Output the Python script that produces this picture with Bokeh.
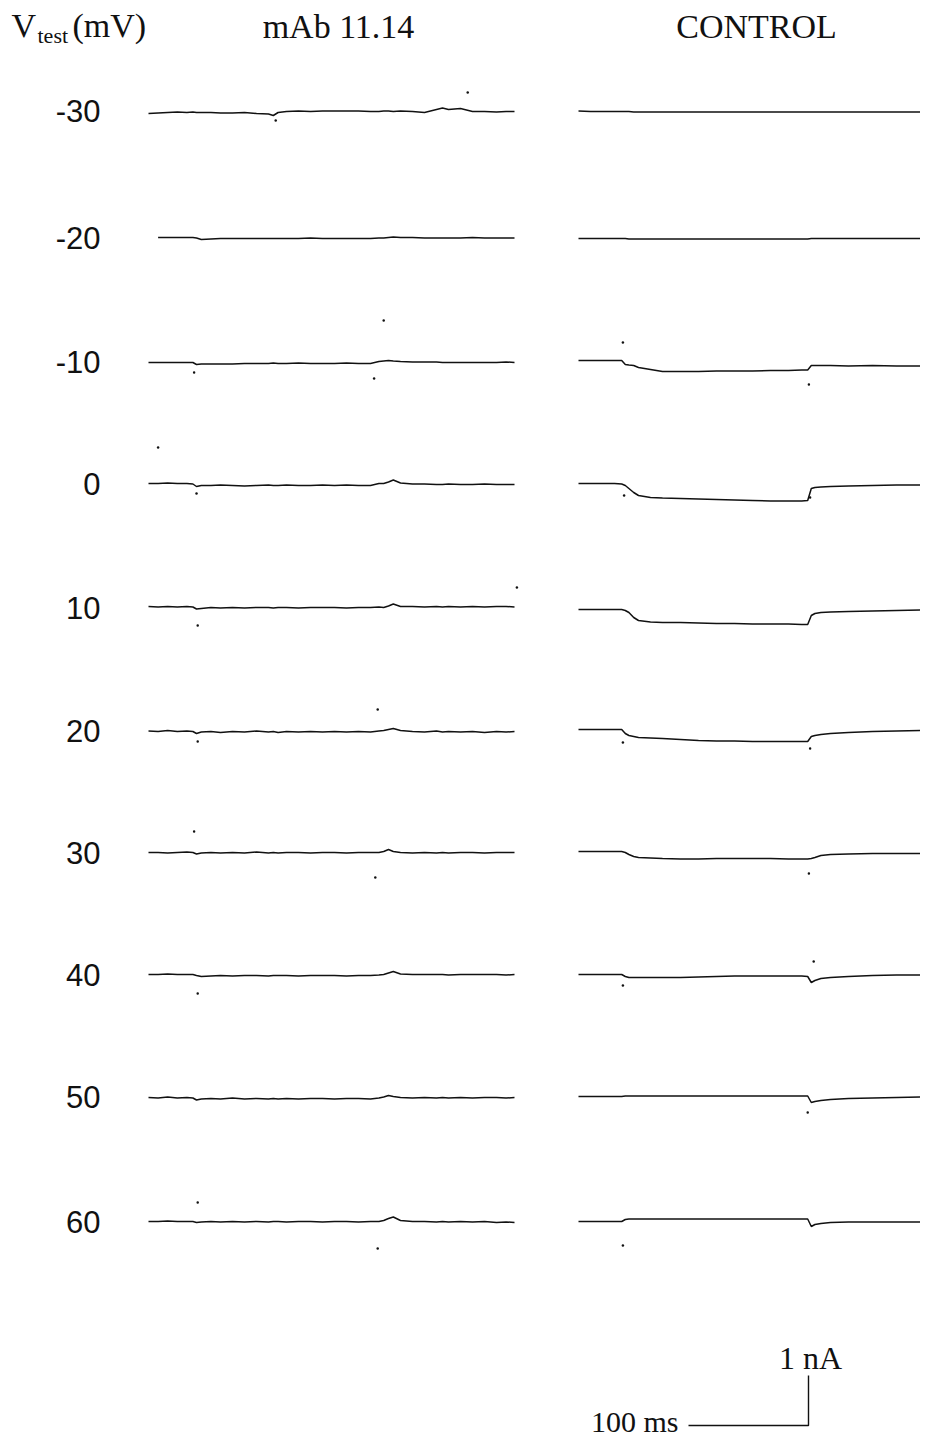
import math
from bokeh.plotting import figure
from bokeh.models import Range1d
from bokeh.core.properties import value
from bokeh.embed import file_html
from bokeh.resources import INLINE

nan = float("nan")

# ---------------- DATA ----------------
VOLTAGES = [-30, -20, -10, 0, 10, 20, 30, 40, 50, 60]
ROW_LABELS = ["-30", "-20", "-10", "0", "10", "20", "30", "40", "50", "60"]
COLUMN_TITLES = ["mAb 11.14", "CONTROL"]
SCALE_TIME_MS = 100
SCALE_CURRENT_NA = 1

# time samples (ms) for mAb 11.14 traces
MAB_T = [0, 8, 16, 24, 32, 37, 40, 44, 52, 60,
         70, 80, 90, 100, 104, 108, 115, 125, 135, 145,
         155, 165, 175, 185, 192, 196, 200, 204, 210, 220,
         230, 240, 245, 250, 260, 270, 280, 290, 298, 305]

# currents (nA) for mAb 11.14 traces
mab_m30 = [-0.05, -0.04, -0.03, -0.02, -0.03, -0.02, -0.03, -0.03, -0.03, -0.04,
           -0.04, -0.03, -0.05, -0.06, -0.09, -0.03, -0.01, 0.00, -0.01, 0.00,
           0.00, 0.00, 0.00, -0.01, -0.01, 0.00, 0.00, -0.01, 0.00, -0.01,
           -0.03, 0.03, 0.06, 0.03, 0.05, -0.01, -0.01, -0.02, -0.01, -0.01]
mab_m20 = [nan, 0.01, 0.01, 0.01, 0.01, 0.01, 0.00, -0.03, -0.02, -0.01,
           -0.01, -0.01, -0.01, -0.01, -0.01, -0.01, -0.01, -0.01, 0.00, -0.01,
           -0.01, -0.01, -0.01, -0.01, 0.00, 0.00, 0.01, 0.02, 0.01, 0.01,
           0.00, 0.00, 0.00, 0.00, 0.00, 0.01, 0.00, 0.00, 0.00, 0.00]
mab_m10 = [-0.02, -0.02, -0.02, -0.02, -0.02, -0.02, -0.06, -0.05, -0.05, -0.05,
           -0.05, -0.04, -0.04, -0.04, -0.03, -0.04, -0.04, -0.03, -0.04, -0.04,
           -0.04, -0.03, -0.04, -0.04, 0.00, 0.01, 0.02, 0.01, 0.00, -0.01,
           -0.01, -0.01, -0.02, -0.02, -0.02, -0.02, -0.02, -0.02, -0.01, -0.02]
mab_0 = [0.00, 0.00, 0.01, 0.00, 0.00, -0.01, -0.06, -0.04, -0.04, -0.03,
         -0.04, -0.05, -0.04, -0.03, -0.04, -0.04, -0.03, -0.04, -0.04, -0.03,
         -0.04, -0.03, -0.04, -0.04, 0.00, 0.00, 0.03, 0.07, 0.01, -0.01,
         -0.01, -0.02, -0.02, -0.01, -0.02, -0.02, -0.01, -0.02, -0.02, -0.02]
mab_10 = [0.02, 0.01, 0.02, 0.01, 0.02, 0.01, -0.03, -0.02, 0.00, -0.01,
          0.00, -0.01, 0.00, 0.00, -0.01, 0.00, 0.00, -0.01, 0.00, 0.00,
          0.00, -0.01, 0.00, 0.00, 0.01, 0.00, 0.03, 0.07, 0.02, 0.02,
          0.01, 0.02, 0.01, 0.02, 0.01, 0.02, 0.01, 0.02, 0.02, 0.01]
mab_20 = [-0.01, -0.02, 0.00, -0.02, -0.01, -0.02, -0.06, -0.03, -0.02, -0.04,
          -0.02, -0.03, -0.01, -0.03, -0.02, -0.04, -0.02, -0.03, -0.02, -0.03,
          -0.02, -0.03, -0.02, -0.03, -0.01, 0.00, 0.02, 0.04, 0.00, -0.02,
          -0.03, -0.01, -0.03, -0.02, -0.03, -0.02, -0.04, -0.02, -0.03, -0.02]
mab_30 = [0.00, 0.00, -0.01, 0.00, 0.01, 0.00, -0.03, -0.01, 0.00, -0.01,
          0.00, -0.01, 0.01, -0.01, 0.00, -0.01, 0.00, 0.00, -0.01, 0.00,
          0.00, -0.01, 0.00, 0.00, 0.00, 0.02, 0.06, 0.02, 0.00, -0.01,
          0.00, -0.01, 0.00, -0.01, 0.00, 0.00, -0.01, 0.00, 0.00, 0.00]
mab_40 = [0.00, 0.00, 0.01, 0.00, 0.00, 0.00, -0.02, -0.04, -0.03, -0.02,
          -0.03, -0.02, -0.02, -0.03, -0.02, -0.02, -0.02, -0.03, -0.02, -0.02,
          -0.02, -0.03, -0.02, -0.02, -0.01, 0.00, 0.03, 0.06, 0.01, 0.00,
          0.00, 0.00, 0.00, -0.01, 0.00, 0.00, 0.00, 0.00, -0.01, 0.00]
mab_50 = [-0.01, -0.02, 0.00, -0.02, -0.01, -0.02, -0.06, -0.04, -0.03, -0.04,
          -0.02, -0.04, -0.03, -0.04, -0.03, -0.04, -0.03, -0.04, -0.03, -0.03,
          -0.04, -0.03, -0.03, -0.04, -0.02, 0.00, 0.03, 0.01, -0.01, -0.02,
          -0.01, -0.02, -0.01, -0.02, -0.01, -0.02, -0.01, -0.01, -0.02, -0.01]
mab_60 = [0.00, 0.00, 0.01, 0.00, 0.00, 0.00, -0.02, -0.01, 0.00, -0.01,
          0.00, -0.01, 0.00, -0.01, 0.00, 0.00, -0.01, 0.00, 0.00, -0.01,
          0.00, 0.00, -0.01, 0.00, 0.00, 0.02, 0.06, 0.09, 0.02, 0.00,
          0.00, -0.01, 0.00, -0.01, 0.00, -0.01, 0.00, -0.02, -0.01, -0.02]

# time samples (ms) for CONTROL traces
CTRL_T = [0, 10, 20, 30, 36, 39, 42, 46, 50, 60,
          70, 85, 100, 115, 130, 145, 160, 175, 186, 191,
          194, 197, 202, 210, 225, 245, 265, 285, 297]

ctrl_m30 = [0.00, -0.01, -0.01, -0.01, -0.01, -0.01, -0.01, -0.02, -0.02, -0.02,
            -0.02, -0.02, -0.02, -0.02, -0.02, -0.02, -0.02, -0.02, -0.02, -0.02,
            -0.02, -0.02, -0.02, -0.02, -0.02, -0.02, -0.02, -0.02, -0.02]
ctrl_m20 = [-0.01, -0.01, -0.01, -0.01, -0.01, -0.01, -0.02, -0.02, -0.02, -0.02,
            -0.02, -0.02, -0.02, -0.02, -0.02, -0.02, -0.02, -0.02, -0.02, -0.02,
            -0.01, -0.01, -0.01, -0.01, -0.01, -0.01, -0.01, -0.01, -0.01]
ctrl_m10 = [0.02, 0.02, 0.02, 0.02, 0.02, -0.06, -0.07, -0.08, -0.12, -0.16,
            -0.20, -0.20, -0.20, -0.19, -0.19, -0.19, -0.18, -0.18, -0.17, -0.17,
            -0.08, -0.08, -0.08, -0.08, -0.09, -0.08, -0.09, -0.09, -0.08]
ctrl_0 = [0.00, 0.00, 0.00, 0.00, -0.01, -0.04, -0.10, -0.18, -0.24, -0.28,
          -0.29, -0.30, -0.31, -0.32, -0.33, -0.34, -0.35, -0.35, -0.35, -0.34,
          -0.10, -0.08, -0.07, -0.06, -0.05, -0.04, -0.03, -0.03, -0.03]
ctrl_10 = [-0.04, -0.04, -0.04, -0.04, -0.04, -0.06, -0.10, -0.20, -0.26, -0.29,
           -0.30, -0.30, -0.31, -0.32, -0.32, -0.33, -0.33, -0.33, -0.34, -0.34,
           -0.16, -0.12, -0.10, -0.09, -0.08, -0.07, -0.06, -0.05, -0.04]
ctrl_20 = [0.02, 0.02, 0.02, 0.02, 0.02, -0.06, -0.10, -0.12, -0.14, -0.15,
           -0.16, -0.18, -0.20, -0.21, -0.21, -0.22, -0.22, -0.22, -0.22, -0.22,
           -0.12, -0.10, -0.08, -0.06, -0.04, -0.02, -0.01, 0.00, 0.00]
ctrl_30 = [0.02, 0.02, 0.02, 0.02, 0.02, 0.00, -0.04, -0.08, -0.10, -0.11,
           -0.12, -0.13, -0.13, -0.12, -0.12, -0.12, -0.12, -0.13, -0.13, -0.13,
           -0.12, -0.10, -0.06, -0.04, -0.03, -0.02, -0.02, -0.02, -0.02]
ctrl_40 = [0.00, 0.00, 0.00, 0.00, 0.00, -0.04, -0.06, -0.06, -0.06, -0.06,
           -0.06, -0.06, -0.05, -0.04, -0.03, -0.03, -0.03, -0.03, -0.03, -0.04,
           -0.16, -0.12, -0.08, -0.06, -0.04, -0.02, -0.01, -0.01, -0.01]
ctrl_50 = [0.01, 0.01, 0.01, 0.01, 0.01, 0.02, 0.02, 0.02, 0.02, 0.02,
           0.02, 0.02, 0.02, 0.02, 0.02, 0.02, 0.02, 0.02, 0.02, 0.02,
           -0.11, -0.09, -0.07, -0.05, -0.03, -0.02, -0.01, 0.00, 0.00]
ctrl_60 = [0.00, 0.00, 0.00, 0.00, 0.00, 0.04, 0.05, 0.05, 0.05, 0.05,
           0.05, 0.05, 0.05, 0.05, 0.05, 0.05, 0.05, 0.05, 0.05, 0.05,
           -0.10, -0.06, -0.04, -0.02, -0.01, -0.01, -0.01, -0.01, -0.01]

MAB_TRACES = [mab_m30, mab_m20, mab_m10, mab_0, mab_10, mab_20, mab_30, mab_40, mab_50, mab_60]
CTRL_TRACES = [ctrl_m30, ctrl_m20, ctrl_m10, ctrl_0, ctrl_10, ctrl_20, ctrl_30, ctrl_40, ctrl_50, ctrl_60]

# isolated transient points in the recordings (column, Vtest, time ms, current nA)
DOT_COL = ["mAb"] * 16 + ["ctrl"] * 11
DOT_V = [-30, -30, -10, -10, -10, 0, 0, 10, 10, 20, 20, 30,
         30, 40, 60, 60,
         -10, -10, 0, 0, 20, 20, 30, 40, 40, 50, 60]
DOT_T = [266, 106, 38, 188, 196, 40, 8, 41, 307, 41, 191, 38,
         189, 41, 41, 191,
         37, 192, 38, 193, 37, 193, 192, 37, 196, 191, 37]
DOT_I = [0.37, -0.19, -0.22, -0.34, 0.82, -0.20, 0.72, -0.36, 0.40, -0.22, 0.42, 0.42,
         -0.50, -0.38, 0.38, -0.54,
         0.38, -0.46, -0.24, -0.28, -0.24, -0.36, -0.42, -0.22, 0.26, -0.31, -0.48]

# ---------------- LAYOUT ----------------
W, H = 920, 1440
PX_PER_MS = 1.2
PX_PER_NA = 50.0
ORIGIN_PX = (148, 110.5)                  # pixel of (t=0, row -30 baseline)
CTRL_SHIFT_MS = (578 - 148) / PX_PER_MS   # horizontal shift of CONTROL column
ROW_BASE_PX = [110.5, 237.5, 361, 483, 607, 730, 852, 974, 1096.5, 1221]
ROW_OFFSET = [-(b - ORIGIN_PX[1]) / PX_PER_NA for b in ROW_BASE_PX]


def gx(px):
    return (px - ORIGIN_PX[0]) / PX_PER_MS


def gy(py):
    return -(py - ORIGIN_PX[1]) / PX_PER_NA


p = figure(width=W, height=H, output_backend="svg", toolbar_location=None,
           x_range=Range1d(gx(0), gx(W)), y_range=Range1d(gy(H), gy(0)),
           x_axis_location=None, y_axis_location=None,
           min_border=0, tools="")
p.outline_line_color = None
p.grid.visible = False
p.background_fill_color = "white"
p.border_fill_color = "white"

INK = "#111111"
for k in range(len(VOLTAGES)):
    off = ROW_OFFSET[k]
    p.line(MAB_T, [v + off for v in MAB_TRACES[k]], line_color=INK, line_width=1.5)
    p.line([t + CTRL_SHIFT_MS for t in CTRL_T], [v + off for v in CTRL_TRACES[k]],
           line_color=INK, line_width=1.5)

dx, dy = [], []
for c, v, t, i in zip(DOT_COL, DOT_V, DOT_T, DOT_I):
    k = VOLTAGES.index(v)
    dx.append(t + (CTRL_SHIFT_MS if c == "ctrl" else 0))
    dy.append(i + ROW_OFFSET[k])
p.scatter(dx, dy, size=2.5, color=INK, line_color=None)

# row labels
p.text(x=[gx(100)] * len(ROW_LABELS), y=ROW_OFFSET, text=ROW_LABELS,
       text_font=value("Liberation Sans"), text_font_size="31px",
       text_align="right", text_baseline="middle", text_color=INK)

SERIF = value("Liberation Serif")
# column titles
p.text(x=[gx(338), gx(756)], y=[gy(26), gy(26)], text=COLUMN_TITLES,
       text_font=SERIF, text_font_size="34px", text_align="center",
       text_baseline="middle", text_color=INK)
# V_test(mV)
p.text(x=[gx(11)], y=[gy(25)], text=["V"], text_font=SERIF, text_font_size="34px",
       text_align="left", text_baseline="middle", text_color=INK)
p.text(x=[gx(37)], y=[gy(35)], text=["test"], text_font=SERIF, text_font_size="22px",
       text_align="left", text_baseline="middle", text_color=INK)
p.text(x=[gx(72)], y=[gy(25)], text=["(mV)"], text_font=SERIF, text_font_size="34px",
       text_align="left", text_baseline="middle", text_color=INK)

# scale bar
bar_t1 = gx(808)
bar_y0 = gy(1425)
p.line([bar_t1 - SCALE_TIME_MS, bar_t1, bar_t1],
       [bar_y0, bar_y0, bar_y0 + SCALE_CURRENT_NA], line_color=INK, line_width=1.4)
p.text(x=[bar_t1 + 2 / PX_PER_MS], y=[gy(1357)],
       text=[f"{SCALE_CURRENT_NA} nA"], text_font=SERIF, text_font_size="32px",
       text_align="center", text_baseline="middle", text_color=INK)
p.text(x=[bar_t1 - SCALE_TIME_MS - 10 / PX_PER_MS], y=[gy(1421)],
       text=[f"{SCALE_TIME_MS} ms"], text_font=SERIF, text_font_size="30px",
       text_align="right", text_baseline="middle", text_color=INK)

open("out.html", "w").write(file_html(p, INLINE))
